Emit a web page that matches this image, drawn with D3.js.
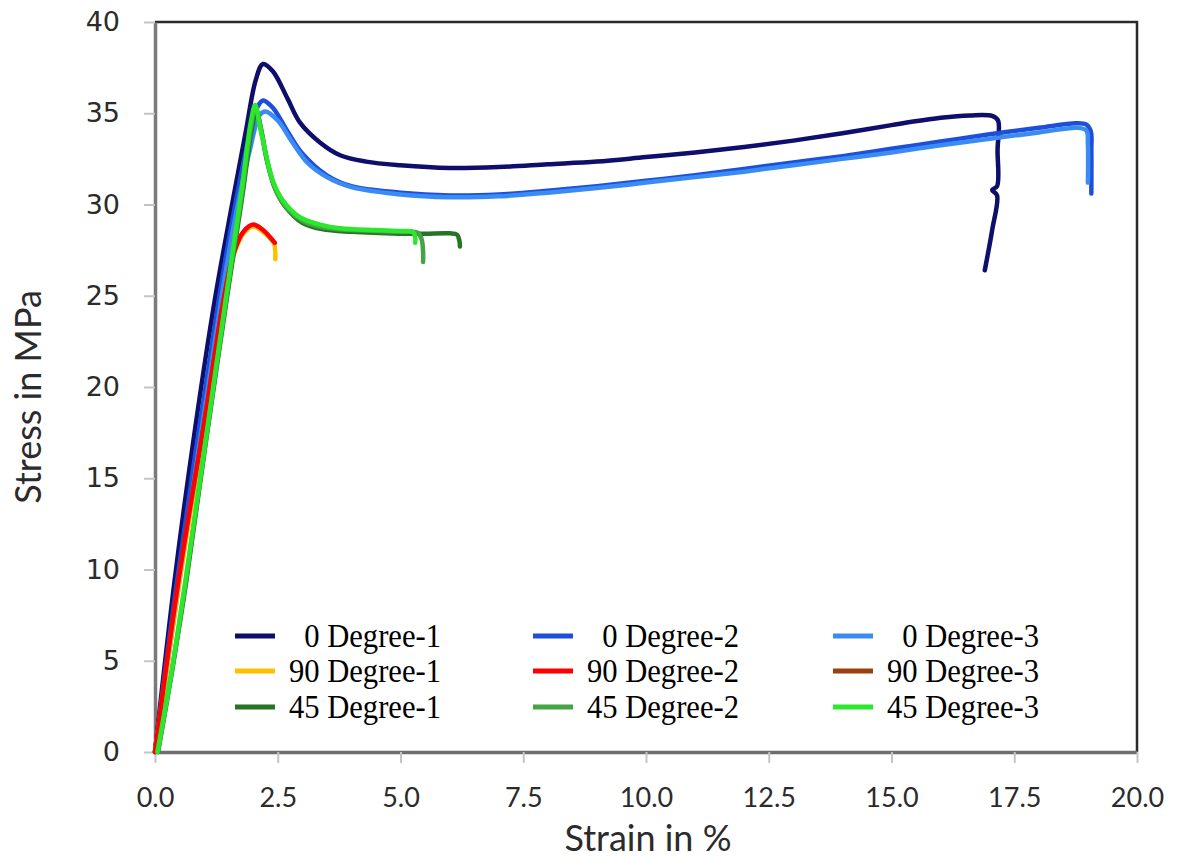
<!DOCTYPE html>
<html>
<head>
<meta charset="utf-8">
<script src="https://cdn.jsdelivr.net/npm/d3@7"></script>
<style>
  body { margin: 0; background: #fff; }
  svg { display: block; }
</style>
</head>
<body>
<div id="chart"></div>
<script>
// tick values
const xTicks = [0, 2.5, 5, 7.5, 10, 12.5, 15, 17.5, 20];
const yTicks = [0, 5, 10, 15, 20, 25, 30, 35, 40];

const names = ["0 Degree-1", "0 Degree-2", "0 Degree-3",
               "90 Degree-1", "90 Degree-2", "90 Degree-3",
               "45 Degree-1", "45 Degree-2", "45 Degree-3"];
const colors = ["#0e0e6c", "#1d4fdb", "#3a8cf4",
                "#ffc000", "#ff0000", "#9c3e0e",
                "#247524", "#45a445", "#2ce82c"];

// [strain %, stress MPa]
const deg0_1 = [[0, 0], [0.4, 9.4], [0.8, 17.4], [1.22, 24.8], [1.57, 30], [1.85, 34], [2.05, 36.8],
  [2.2, 37.7], [2.4, 37.3], [2.7, 35.8], [2.95, 34.5], [3.36, 33.4], [3.77, 32.7], [4.3, 32.35],
  [5, 32.15], [6, 32.0], [7, 32.05], [8, 32.2], [9, 32.35], [10, 32.6], [11, 32.85], [12, 33.15],
  [13, 33.5], [14, 33.9], [15, 34.35], [16, 34.75], [16.6, 34.88], [17.05, 34.85], [17.17, 34.6],
  [17.16, 33], [17.15, 31.0], [17.05, 30.8], [17.15, 30.5], [17.05, 28.6], [16.9, 26.4]];
const deg0_2 = [[0, 0], [0.45, 9.4], [1.3, 24.8], [1.6, 29.5], [1.9, 33.5], [2.08, 35.3], [2.2, 35.7],
  [2.4, 35.3], [2.7, 34.0], [3.0, 32.8], [3.5, 31.6], [4.0, 31.0], [5, 30.65], [6, 30.5], [7, 30.55],
  [8, 30.75], [9, 31.0], [10, 31.3], [11, 31.6], [12, 31.95], [13, 32.3], [14, 32.65], [15, 33.05],
  [16, 33.45], [17, 33.85], [18, 34.2], [18.75, 34.45], [18.97, 34.38], [19.06, 34.0], [19.07, 33],
  [19.07, 30.6]];
const deg0_3 = [[0, 0], [0.5, 9.4], [1.35, 24.8], [1.65, 29.5], [1.95, 33.2], [2.13, 34.9], [2.25, 35.1],
  [2.5, 34.6], [2.8, 33.4], [3.1, 32.3], [3.5, 31.5], [4.0, 30.95], [5, 30.55], [6, 30.4], [7, 30.45],
  [8, 30.65], [9, 30.9], [10, 31.2], [11, 31.5], [12, 31.8], [13, 32.15], [14, 32.5], [15, 32.85],
  [16, 33.25], [17, 33.6], [18, 33.95], [18.8, 34.2], [18.97, 34.05], [19.0, 33.3], [19.0, 31.2]];
const deg90_1 = [[0, 0], [0.5, 9.4], [1.0, 17.8], [1.4, 24.6], [1.6, 27.2], [1.8, 28.4], [2.0, 28.8],
  [2.2, 28.5], [2.42, 27.9], [2.45, 27.4], [2.45, 27.0]];
const deg90_2 = [[0, 0], [0.48, 9.4], [1.0, 18.0], [1.4, 24.8], [1.6, 27.3], [1.8, 28.5], [2.0, 28.9],
  [2.2, 28.6], [2.44, 27.9]];
const deg90_3 = [[0, 0], [0.48, 9.4], [1.0, 18.0], [1.4, 24.8], [1.6, 27.3], [1.8, 28.5], [2.0, 28.85],
  [2.2, 28.55], [2.4, 28.0]];
const deg45_1 = [[0.06, 0], [0.35, 4.5], [0.64, 9.4], [1.0, 16.3], [1.46, 24.8], [1.77, 30.3], [1.97, 34.1],
  [2.06, 35.1], [2.17, 34.0], [2.28, 32.4], [2.44, 30.9], [2.65, 29.9], [3.0, 29.0], [3.4, 28.65],
  [4.0, 28.5], [5.0, 28.4], [5.5, 28.4], [6.0, 28.42], [6.15, 28.35], [6.2, 28.0], [6.21, 27.7]];
const deg45_2 = [[0.06, 0], [0.35, 4.5], [0.63, 9.4], [1.0, 16.4], [1.45, 24.8], [1.76, 30.4], [1.96, 34.3],
  [2.05, 35.3], [2.16, 34.1], [2.26, 32.7], [2.42, 31.1], [2.63, 30.0], [3.0, 29.1], [3.4, 28.75],
  [4.0, 28.6], [5.0, 28.5], [5.35, 28.45], [5.43, 28.1], [5.46, 27.4], [5.46, 26.85]];
const deg45_3 = [[0.05, 0], [0.34, 4.5], [0.62, 9.4], [1.0, 16.5], [1.44, 24.8], [1.75, 30.5], [1.95, 34.5],
  [2.04, 35.45], [2.14, 34.2], [2.24, 33.0], [2.4, 31.3], [2.61, 30.2], [2.95, 29.3], [3.36, 28.9],
  [3.77, 28.7], [4.5, 28.6], [5.0, 28.55], [5.25, 28.5], [5.3, 28.2], [5.3, 27.9]];

const series = [deg0_1, deg0_2, deg0_3, deg90_1, deg90_2, deg90_3, deg45_1, deg45_2, deg45_3];
// back to front
const drawOrder = [0, 1, 2, 5, 3, 4, 6, 7, 8];

const W = 1179, H = 859;
const margin = {top: 22, right: 42, bottom: 107, left: 155};
const width = W - margin.left - margin.right;
const height = H - margin.top - margin.bottom;

const svg = d3.select("#chart").append("svg")
    .attr("width", W)
    .attr("height", H);

const g = svg.append("g")
    .attr("transform", "translate(" + margin.left + "," + margin.top + ")");

const x = d3.scaleLinear().domain([0, 20]).range([0, width]);
const y = d3.scaleLinear().domain([0, 40]).range([height, 0]);

// frame (top and right)
g.append("path")
    .attr("d", "M0,0H" + width + "V" + height)
    .attr("fill", "none")
    .attr("stroke", "#2a2a2a")
    .attr("stroke-width", 2.5);

// y axis
const yAxis = g.append("g")
    .call(d3.axisLeft(y).tickValues(yTicks).tickSize(11).tickSizeOuter(0).tickPadding(24)
        .tickFormat(d3.format("d")));
yAxis.select(".domain").attr("stroke", "#7a7a7a").attr("stroke-width", 3.5);
yAxis.selectAll(".tick line").attr("stroke", "#c4c4c4").attr("stroke-width", 2);
yAxis.selectAll("text")
    .attr("fill", "#2b2b2b")
    .style("font-family", "'DejaVu Sans', sans-serif")
    .style("font-size", "27px");

// x axis
const xAxis = g.append("g")
    .attr("transform", "translate(0," + height + ")")
    .call(d3.axisBottom(x).tickValues(xTicks).tickSize(11).tickSizeOuter(0).tickPadding(25)
        .tickFormat(d3.format(".1f")));
xAxis.select(".domain").attr("stroke", "#6e6e6e").attr("stroke-width", 3.5);
xAxis.selectAll(".tick line").attr("stroke", "#c4c4c4").attr("stroke-width", 2);
xAxis.selectAll("text")
    .attr("fill", "#2b2b2b")
    .style("font-family", "Lato, sans-serif")
    .style("font-size", "27px");

// axis titles
svg.append("text")
    .attr("transform", "translate(41," + (margin.top + height / 2 + 10) + ") rotate(-90)")
    .attr("text-anchor", "middle")
    .attr("fill", "#2b2b2b")
    .style("font-family", "Lato, sans-serif")
    .style("font-size", "36px")
    .text("Stress in MPa");

svg.append("text")
    .attr("x", 648)
    .attr("y", 851)
    .attr("text-anchor", "middle")
    .attr("fill", "#2b2b2b")
    .style("font-family", "Lato, sans-serif")
    .style("font-size", "36px")
    .text("Strain in %");

// curves
const line = d3.line()
    .x(d => x(d[0]))
    .y(d => y(d[1]))
    .curve(d3.curveCatmullRom.alpha(0.5));

drawOrder.forEach(function (i) {
    g.append("path")
        .datum(series[i])
        .attr("fill", "none")
        .attr("stroke", colors[i])
        .attr("stroke-width", 4.5)
        .attr("stroke-linejoin", "round")
        .attr("stroke-linecap", "round")
        .attr("d", line);
});

// legend, 3 columns x 3 rows
const legX = [235, 533, 833];
const legY = [636, 671, 707];
const legend = svg.append("g");
names.forEach(function (name, i) {
    const cx = legX[i % 3], cy = legY[Math.floor(i / 3)];
    legend.append("line")
        .attr("x1", cx).attr("x2", cx + 40)
        .attr("y1", cy).attr("y2", cy)
        .attr("stroke", colors[i])
        .attr("stroke-width", 5);
    const t = legend.append("text")
        .attr("x", cx + 206)
        .attr("y", cy + 11)
        .attr("text-anchor", "end")
        .attr("fill", "#000")
        .style("font-family", "'Liberation Serif', 'Times New Roman', serif")
        .style("font-size", "34px")
        .text(name);
    // squeeze back to the narrow width seen in the picture
    const w = t.node().getComputedTextLength();
    t.attr("textLength", w * 0.9).attr("lengthAdjust", "spacingAndGlyphs");
});
</script>
</body>
</html>
